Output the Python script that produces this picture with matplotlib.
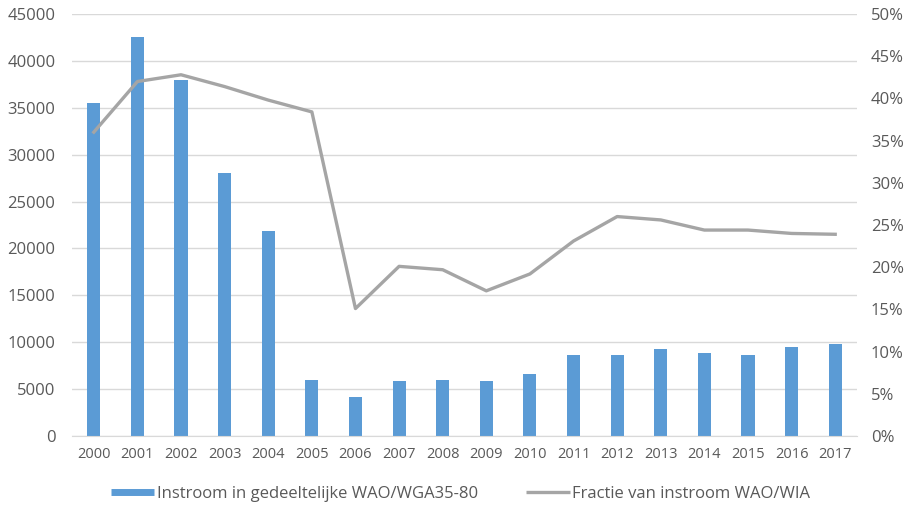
import matplotlib
matplotlib.use("Agg")
import matplotlib.pyplot as plt
from matplotlib.ticker import FuncFormatter
from matplotlib.lines import Line2D

plt.rcParams['font.family'] = ['Open Sans', 'DejaVu Sans']

years = [str(y) for y in range(2000, 2018)]
instroom = [35500, 42500, 38000, 28000, 21900, 6000, 4200, 5830, 6000, 5830,
            6640, 8670, 8670, 9310, 8820, 8670, 9490, 9840]
fractie = [36.0, 42.0, 42.8, 41.4, 39.8, 38.4, 15.1, 20.1, 19.7, 17.2,
           19.2, 23.1, 26.0, 25.6, 24.4, 24.4, 24.0, 23.9]

bar_label = "Instroom in gedeeltelijke WAO/WGA35-80"
line_label = "Fractie van instroom WAO/WIA"

bar_color = "#5b9bd5"
line_color = "#a5a5a5"
text_color = "#595959"
grid_color = "#d9d9d9"

fig = plt.figure(figsize=(9.12, 5.08), dpi=100)
ax = fig.add_axes([72/912, 1-436/508, (857-72)/912, (436-14)/508])
ax2 = ax.twinx()

x = list(range(len(years)))
ax.bar(x, instroom, width=0.3, color=bar_color, zorder=2)
ax.set_ylim(0, 45000)
ax.set_yticks(range(0, 45001, 5000))
ax.set_xlim(-0.5, len(years) - 0.5)
ax.set_xticks(x)
ax.set_xticklabels(years)
ax.grid(axis='y', color=grid_color, linewidth=1, zorder=0)
ax.set_axisbelow(True)

ax2.plot(x, fractie, color=line_color, linewidth=2.4, zorder=3)
ax2.set_ylim(0, 50)
ax2.set_yticks(range(0, 51, 5))
ax2.yaxis.set_major_formatter(FuncFormatter(lambda v, p: f"{int(v)}%"))

for a in (ax, ax2):
    for s in a.spines.values():
        s.set_visible(False)
    a.tick_params(length=0, colors=text_color)
ax.spines['bottom'].set_visible(True)
ax.spines['bottom'].set_color(grid_color)
ax.tick_params(axis='y', labelsize=12, pad=12)
ax.tick_params(axis='x', labelsize=10.5, pad=8)
ax2.tick_params(axis='y', labelsize=12, pad=10)

handles = [Line2D([0], [0], color=bar_color, linewidth=5, solid_capstyle='butt'),
           Line2D([0], [0], color=line_color, linewidth=2.4, solid_capstyle='butt')]
fig.legend(handles, [bar_label, line_label], loc='center',
           bbox_to_anchor=(0.505, 1-494/508), ncol=2, frameon=False,
           fontsize=12, labelcolor=text_color, handlelength=2.6,
           handletextpad=0.15, columnspacing=2.9)

fig.savefig("out.png", dpi=100)
